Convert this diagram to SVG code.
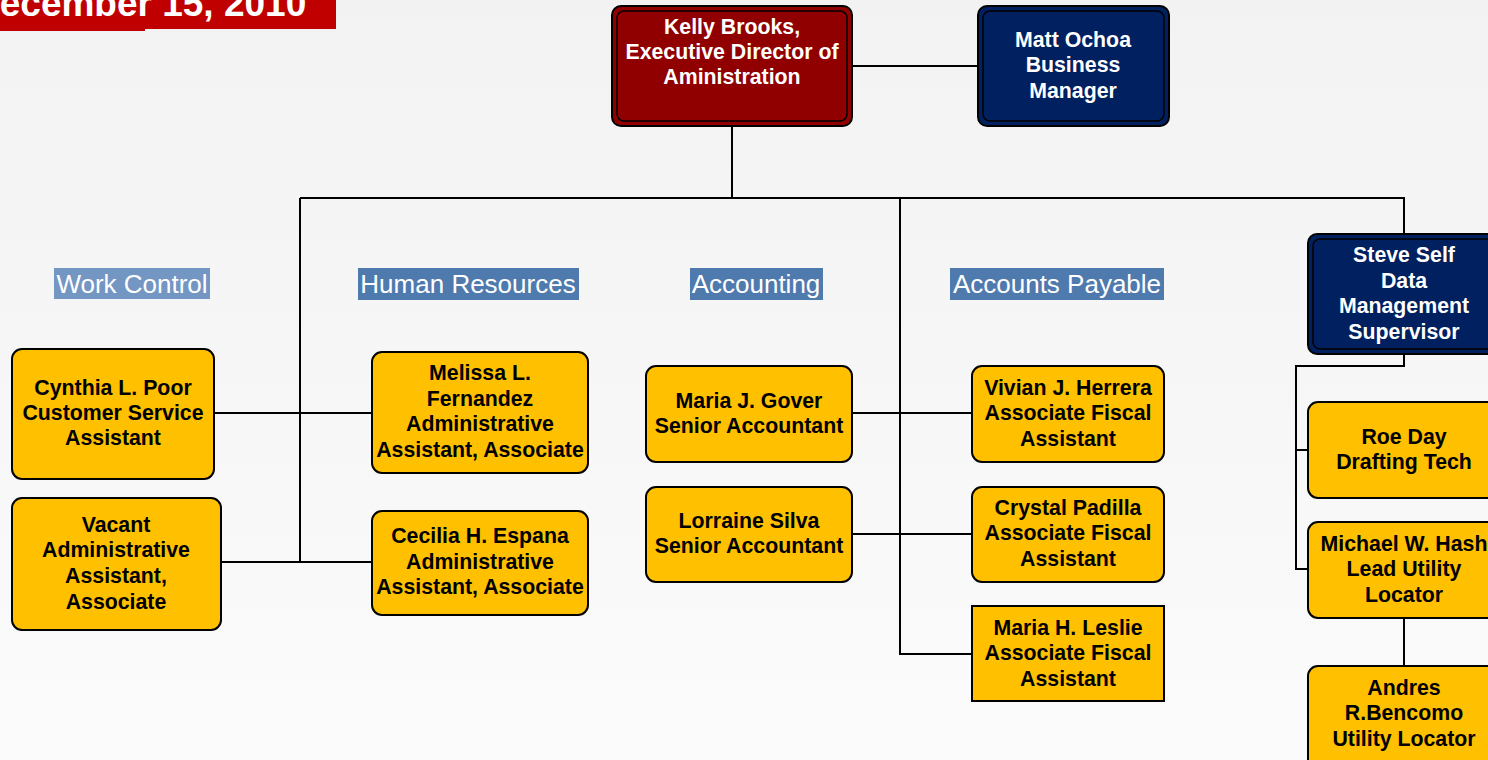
<svg xmlns="http://www.w3.org/2000/svg" width="1488" height="760" viewBox="0 0 1488 760">
<defs>
<linearGradient id="bg" x1="0" y1="0" x2="0" y2="1">
<stop offset="0" stop-color="#f2f2f2"/>
<stop offset="1" stop-color="#fbfbfb"/>
</linearGradient>
<style>
.y{fill:#ffc000;stroke:#000;stroke-width:2}
.outR{fill:#900000;stroke:#000;stroke-width:2}
.outB{fill:#002060;stroke:#000;stroke-width:2}
.inner{fill:none;stroke:#000;stroke-width:1.5}
.t{font-family:"Liberation Sans",Arial,sans-serif;font-weight:bold;font-size:21.3px;text-anchor:middle;fill:#000}
.w{fill:#fff}
.lab{font-family:"Liberation Sans",Arial,sans-serif;font-size:26px;fill:#fff;text-anchor:middle}
.c{stroke:#000;stroke-width:2;fill:none}
</style>
</defs>
<rect width="1488" height="760" fill="url(#bg)"/>
<g id="title">
<rect x="0" y="0" width="336" height="29" fill="#c00000"/>
<rect x="0" y="0" width="145" height="31" fill="#c00000"/>
<text x="-27" y="16" font-family="Liberation Sans,Arial,sans-serif" font-weight="bold" font-size="37" fill="#fff">December 15, 2010</text>
</g>
<g id="connectors">
<path class="c" d="M853 66H977"/>
<path class="c" d="M732 127V198"/>
<path class="c" d="M300 198H1404V234"/>
<path class="c" d="M300 198V562"/>
<path class="c" d="M900 198V654H972"/>
<path class="c" d="M214 413H372"/>
<path class="c" d="M221 562H372"/>
<path class="c" d="M852 413H972"/>
<path class="c" d="M852 534H972"/>
<path class="c" d="M1404 354V366H1296V569H1308"/>
<path class="c" d="M1296 450H1308"/>
<path class="c" d="M1404 618V666"/>
</g>
<g id="labels">
<rect x="54" y="268" width="156" height="31" fill="#7396c2"/>
<text class="lab" x="132" y="293">Work Control</text>
<rect x="358" y="268" width="221" height="32" fill="#4f7aae"/>
<text class="lab" x="468" y="293">Human Resources</text>
<rect x="690" y="268" width="133" height="32" fill="#4f7aae"/>
<text class="lab" x="756" y="293">Accounting</text>
<rect x="950" y="268" width="214" height="32" fill="#4f7aae"/>
<text class="lab" x="1057" y="293">Accounts Payable</text>
</g>
<g id="kelly">
<rect class="outR" x="612" y="6" width="240" height="120" rx="9"/>
<rect class="inner" x="617" y="11" width="230" height="110" rx="7"/>
<text class="t w" x="732" y="34">Kelly Brooks,</text>
<text class="t w" x="732" y="59">Executive Director of</text>
<text class="t w" x="732" y="84">Aministration</text>
</g>
<g id="matt">
<rect class="outB" x="978" y="6" width="191" height="120" rx="9"/>
<rect class="inner" x="983" y="11" width="181" height="110" rx="7"/>
<text class="t w" x="1073" y="47">Matt Ochoa</text>
<text class="t w" x="1073" y="72">Business</text>
<text class="t w" x="1073" y="98">Manager</text>
</g>
<g id="steve">
<rect class="outB" x="1308" y="234" width="196" height="120" rx="9"/>
<rect class="inner" x="1313" y="239" width="186" height="110" rx="7"/>
<text class="t w" x="1404" y="262">Steve Self</text>
<text class="t w" x="1404" y="288">Data</text>
<text class="t w" x="1404" y="313">Management</text>
<text class="t w" x="1404" y="339">Supervisor</text>
</g>
<g id="cynthia">
<rect class="y" x="12" y="349" width="202" height="130" rx="10"/>
<text class="t" x="113" y="395">Cynthia L. Poor</text>
<text class="t" x="113" y="420">Customer Service</text>
<text class="t" x="113" y="445">Assistant</text>
</g>
<g id="vacant">
<rect class="y" x="12" y="498" width="209" height="132" rx="10"/>
<text class="t" x="116" y="532">Vacant</text>
<text class="t" x="116" y="557">Administrative</text>
<text class="t" x="116" y="583">Assistant,</text>
<text class="t" x="116" y="609">Associate</text>
</g>
<g id="melissa">
<rect class="y" x="372" y="352" width="216" height="121" rx="10"/>
<text class="t" x="480" y="380">Melissa L.</text>
<text class="t" x="480" y="406">Fernandez</text>
<text class="t" x="480" y="431">Administrative</text>
<text class="t" x="480" y="457">Assistant, Associate</text>
</g>
<g id="cecilia">
<rect class="y" x="372" y="511" width="216" height="104" rx="10"/>
<text class="t" x="480" y="543">Cecilia H. Espana</text>
<text class="t" x="480" y="569">Administrative</text>
<text class="t" x="480" y="594">Assistant, Associate</text>
</g>
<g id="mariagover">
<rect class="y" x="646" y="366" width="206" height="96" rx="10"/>
<text class="t" x="749" y="408">Maria J. Gover</text>
<text class="t" x="749" y="433">Senior Accountant</text>
</g>
<g id="lorraine">
<rect class="y" x="646" y="487" width="206" height="95" rx="10"/>
<text class="t" x="749" y="528">Lorraine Silva</text>
<text class="t" x="749" y="553">Senior Accountant</text>
</g>
<g id="vivian">
<rect class="y" x="972" y="366" width="192" height="96" rx="10"/>
<text class="t" x="1068" y="395">Vivian J. Herrera</text>
<text class="t" x="1068" y="420">Associate Fiscal</text>
<text class="t" x="1068" y="446">Assistant</text>
</g>
<g id="crystal">
<rect class="y" x="972" y="487" width="192" height="95" rx="10"/>
<text class="t" x="1068" y="515">Crystal Padilla</text>
<text class="t" x="1068" y="540">Associate Fiscal</text>
<text class="t" x="1068" y="566">Assistant</text>
</g>
<g id="marialeslie">
<rect class="y" x="972" y="606" width="192" height="95"/>
<text class="t" x="1068" y="635">Maria H. Leslie</text>
<text class="t" x="1068" y="660">Associate Fiscal</text>
<text class="t" x="1068" y="686">Assistant</text>
</g>
<g id="roe">
<rect class="y" x="1308" y="402" width="196" height="96" rx="10"/>
<text class="t" x="1404" y="444">Roe Day</text>
<text class="t" x="1404" y="469">Drafting Tech</text>
</g>
<g id="michael">
<rect class="y" x="1308" y="522" width="196" height="96" rx="10"/>
<text class="t" x="1404" y="551">Michael W. Hash</text>
<text class="t" x="1404" y="576">Lead Utility</text>
<text class="t" x="1404" y="602">Locator</text>
</g>
<g id="andres">
<rect class="y" x="1308" y="666" width="196" height="110" rx="10"/>
<text class="t" x="1404" y="695">Andres</text>
<text class="t" x="1404" y="720">R.Bencomo</text>
<text class="t" x="1404" y="746">Utility Locator</text>
</g>
</svg>
